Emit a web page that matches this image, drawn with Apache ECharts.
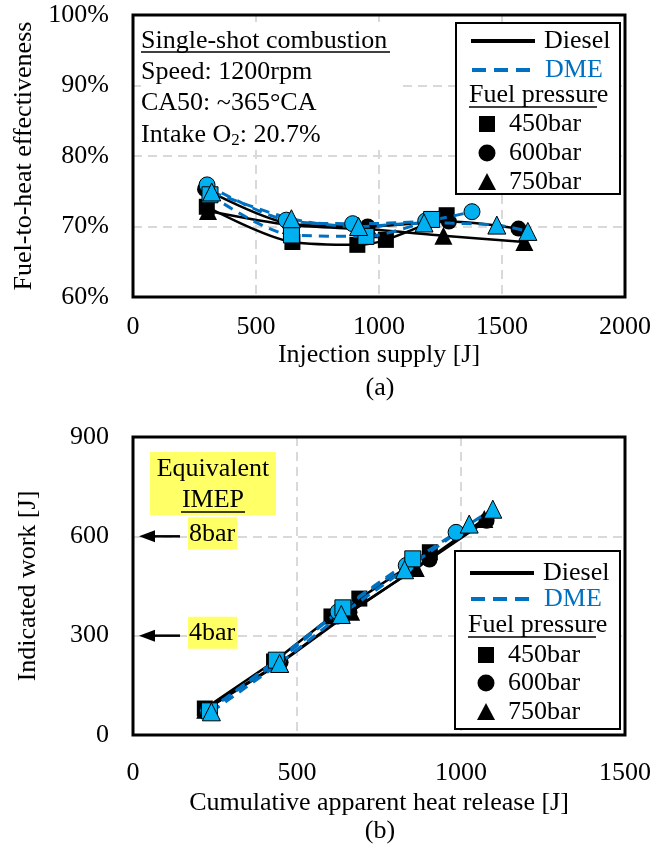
<!DOCTYPE html>
<html>
<head>
<meta charset="utf-8">
<script src="https://cdn.jsdelivr.net/npm/echarts@6/dist/echarts.min.js"></script>
<style>html,body{margin:0;padding:0;background:#fff;}#c{width:654px;height:852px;}</style>
</head>
<body>
<div id="c"></div>
<script>
// ---------- DATA ----------
// (a) Injection supply [J] vs fuel-to-heat effectiveness [%]
const injDiesel450 = [300, 648, 912, 1028, 1275];
const effDiesel450 = [72.8, 67.8, 67.4, 68.1, 71.6];
const injDiesel600 = [293, 640, 954, 1284, 1567];
const effDiesel600 = [75.3, 70.4, 70.0, 70.7, 69.7];
const injDiesel750 = [305, 642, 960, 1262, 1591];
const effDiesel750 = [72.2, 70.2, 69.6, 68.7, 67.8];
const injDME450 = [313, 644, 947, 1214];
const effDME450 = [74.5, 68.8, 68.6, 71.0];
const injDME600 = [301, 623, 893, 1190, 1378];
const effDME600 = [75.9, 70.9, 70.4, 70.8, 72.1];
const injDME750 = [320, 644, 917, 1183, 1479, 1605];
const effDME750 = [74.9, 71.1, 70.0, 70.5, 70.2, 69.3];

// (b) Cumulative apparent heat release [J] vs indicated work [J]
const hrDiesel450 = [219, 430, 605, 690, 905];
const wDiesel450 = [80, 222, 358, 412, 552];
const hrDiesel600 = [221, 450, 660, 904, 1078];
const wDiesel600 = [78, 220, 371, 530, 647];
const hrDiesel750 = [220, 448, 665, 862, 1071];
const wDiesel750 = [76, 216, 372, 504, 652];
const hrDME450 = [233, 437, 640, 853];
const wDME450 = [73, 226, 384, 532];
const hrDME600 = [228, 442, 625, 833, 985];
const wDME600 = [74, 222, 372, 512, 612];
const hrDME750 = [239, 447, 635, 828, 1025, 1097];
const wDME750 = [70, 216, 364, 499, 637, 682];

const imepLabels = ['8bar', '4bar'];
const imepWork = [600, 300];

// ---------- CHART ----------
const FONT = 'Liberation Serif';
const FS = 26;
const BLUE_LINE = '#0070C0';
const BLUE_FILL = '#00B0F0';
const GRID_COLOR = '#d9d9d9';

function zip(a, b) { return a.map((v, i) => [v, b[i]]); }

function mk(name, x, y, isDME, pressure, axis) {
  return {
    type: 'line',
    name: name,
    xAxisIndex: axis,
    yAxisIndex: axis,
    data: zip(x, y),
    smooth: axis === 0 ? 0.3 : 0,
    symbol: pressure === 450 ? 'rect' : (pressure === 600 ? 'circle' : 'triangle'),
    symbolSize: pressure === 750 ? 18 : 16,
    lineStyle: { color: isDME ? BLUE_LINE : '#000', width: isDME ? 3 : 2.5, type: isDME ? [10, 7] : 'solid' },
    itemStyle: { color: isDME ? BLUE_FILL : '#000', borderColor: '#000', borderWidth: isDME ? 1 : 0 },
    z: isDME ? 4 : 3,
    animation: false
  };
}

const splitLine = { show: true, lineStyle: { color: GRID_COLOR, width: 2, type: [9, 6] } };

function valueAxis(opts) {
  return Object.assign({
    type: 'value',
    axisLine: { show: false },
    axisTick: { show: false },
    splitLine: splitLine,
    nameLocation: 'middle',
    nameTextStyle: { fontFamily: FONT, fontSize: FS, color: '#000' },
  }, opts);
}
const plain = v => String(v);

const chart = echarts.init(document.getElementById('c'), null, { renderer: 'canvas' });

const option = {
  animation: false,
  backgroundColor: '#fff',
  grid: [
    { left: 133, right: 27, top: 15, height: 282, show: true, borderColor: '#000', borderWidth: 3, backgroundColor: 'transparent', z: 5 },
    { left: 133, right: 28, top: 437, height: 298, show: true, borderColor: '#000', borderWidth: 3, backgroundColor: 'transparent', z: 5 }
  ],
  xAxis: [
    valueAxis({ gridIndex: 0, min: 0, max: 2000, interval: 500, name: 'Injection supply [J]', nameGap: 45,
      axisLabel: { fontFamily: FONT, fontSize: FS, color: '#000', margin: 17, formatter: plain } }),
    valueAxis({ gridIndex: 1, min: 0, max: 1500, interval: 500, name: 'Cumulative apparent heat release [J]', nameGap: 55,
      axisLabel: { fontFamily: FONT, fontSize: FS, color: '#000', margin: 25, formatter: plain } })
  ],
  yAxis: [
    valueAxis({ gridIndex: 0, min: 60, max: 100, interval: 10, name: 'Fuel-to-heat effectiveness', nameGap: 92,
      axisLabel: { fontFamily: FONT, fontSize: FS, color: '#000', margin: 24, formatter: '{value}%' } }),
    valueAxis({ gridIndex: 1, min: 0, max: 900, interval: 300, name: 'Indicated work [J]', nameGap: 92,
      axisLabel: { fontFamily: FONT, fontSize: FS, color: '#000', margin: 24, formatter: plain } })
  ],
  series: [
    mk('Diesel 600bar', injDiesel600, effDiesel600, false, 600, 0),
    mk('Diesel 750bar', injDiesel750, effDiesel750, false, 750, 0),
    mk('Diesel 450bar', injDiesel450, effDiesel450, false, 450, 0),
    mk('DME 600bar', injDME600, effDME600, true, 600, 0),
    mk('DME 450bar', injDME450, effDME450, true, 450, 0),
    mk('DME 750bar', injDME750, effDME750, true, 750, 0),
    mk('Diesel 600bar', hrDiesel600, wDiesel600, false, 600, 1),
    mk('Diesel 750bar', hrDiesel750, wDiesel750, false, 750, 1),
    mk('Diesel 450bar', hrDiesel450, wDiesel450, false, 450, 1),
    mk('DME 600bar', hrDME600, wDME600, true, 600, 1),
    mk('DME 450bar', hrDME450, wDME450, true, 450, 1),
    mk('DME 750bar', hrDME750, wDME750, true, 750, 1)
  ]
};
chart.setOption(option);

// ---------- ANNOTATIONS ----------
function txt(x, y, text, opts) {
  return {
    type: 'text', x: x, y: y, z: 20,
    style: Object.assign({ text: text, fontFamily: FONT, fontSize: FS, fill: '#000', textAlign: 'left', textVerticalAlign: 'middle' }, (opts && opts.style) || {})
  };
}
function hline(x1, x2, y, color, width, dash) {
  return { type: 'line', z: 20, shape: { x1: x1, y1: y, x2: x2, y2: y },
    style: { stroke: color, lineWidth: width, lineDash: dash || null } };
}
function marker(kind, cx, cy) {
  if (kind === 'rect') return { type: 'rect', z: 20, shape: { x: cx - 8, y: cy - 8, width: 16, height: 16 }, style: { fill: '#000' } };
  if (kind === 'circle') return { type: 'circle', z: 20, shape: { cx: cx, cy: cy, r: 8.5 }, style: { fill: '#000' } };
  return { type: 'polygon', z: 20, shape: { points: [[cx, cy - 9], [cx + 9, cy + 8], [cx - 9, cy + 8]] }, style: { fill: '#000' } };
}
function legend(x0, y0, x1, y1, rows) {
  const g = [];
  g.push({ type: 'rect', z: 19, shape: { x: x0, y: y0, width: x1 - x0, height: y1 - y0 }, style: { fill: '#fff', stroke: '#000', lineWidth: 2 } });
  g.push(hline(x0 + 15, x0 + 79, rows[0], '#000', 4));
  g.push(txt(x0 + 88, rows[0], 'Diesel'));
  g.push(hline(x0 + 16, x0 + 81, rows[1], BLUE_LINE, 4, [14, 8]));
  g.push(txt(x0 + 89, rows[1], 'DME', { style: { fill: BLUE_LINE } }));
  g.push(txt(x0 + 13, rows[2], 'Fuel pressure'));
  g.push(hline(x0 + 13, x0 + 141, rows[2] + 12, '#000', 1.5));
  const kinds = ['rect', 'circle', 'triangle'];
  const labs = ['450bar', '600bar', '750bar'];
  for (let i = 0; i < 3; i++) {
    g.push(marker(kinds[i], x0 + 31, rows[3 + i]));
    g.push(txt(x0 + 53, rows[3 + i], labs[i]));
  }
  return g;
}

const g = [];
// (a) info text box
g.push({ type: 'rect', z: 18, shape: { x: 141, y: 22, width: 256, height: 122 }, style: { fill: '#fff' } });
g.push(txt(141, 41, 'Single-shot combustion'));
g.push(hline(141, 390, 52, '#000', 1.5));
g.push(txt(141, 72, 'Speed: 1200rpm'));
g.push(txt(141, 103, 'CA50: ~365°CA'));
g.push(txt(141, 135, 'Intake O{sub|2}: 20.7%', { style: { rich: { sub: { fontFamily: FONT, fontSize: 17, verticalAlign: 'bottom', padding: [12, 0, 0, 0] } } } }));
// legends
legend(456, 23, 620, 194, [41, 70, 95, 124, 153, 182]).forEach(e => g.push(e));
legend(455, 551, 620, 729, [573, 599, 625, 655, 683, 712]).forEach(e => g.push(e));
// (b) equivalent IMEP annotations
g.push({ type: 'rect', z: 18, shape: { x: 150, y: 452, width: 126, height: 63 }, style: { fill: '#ffff66' } });
g.push(txt(213, 469, 'Equivalent', { style: { textAlign: 'center' } }));
g.push(txt(213, 500, 'IMEP', { style: { textAlign: 'center' } }));
g.push(hline(181, 245, 512, '#000', 1.5));
imepWork.forEach((w, i) => {
  const py = chart.convertToPixel({ yAxisIndex: 1 }, w);
  const px0 = chart.convertToPixel({ xAxisIndex: 1 }, 0);
  g.push({ type: 'rect', z: 18, shape: { x: 188, y: py - 19, width: 49, height: 32 }, style: { fill: '#ffff66' } });
  g.push(txt(212, py - 2, imepLabels[i], { style: { textAlign: 'center' } }));
  g.push(hline(px0 + 20, px0 + 47, py, '#000', 2.5));
  g.push({ type: 'polygon', z: 20, shape: { points: [[px0 + 6, py], [px0 + 22, py - 6], [px0 + 22, py + 6]] }, style: { fill: '#000' } });
});
// panel labels
g.push(txt(380, 388, '(a)', { style: { textAlign: 'center' } }));
g.push(txt(380, 831, '(b)', { style: { textAlign: 'center' } }));

chart.setOption({ graphic: g });
</script>
</body>
</html>
